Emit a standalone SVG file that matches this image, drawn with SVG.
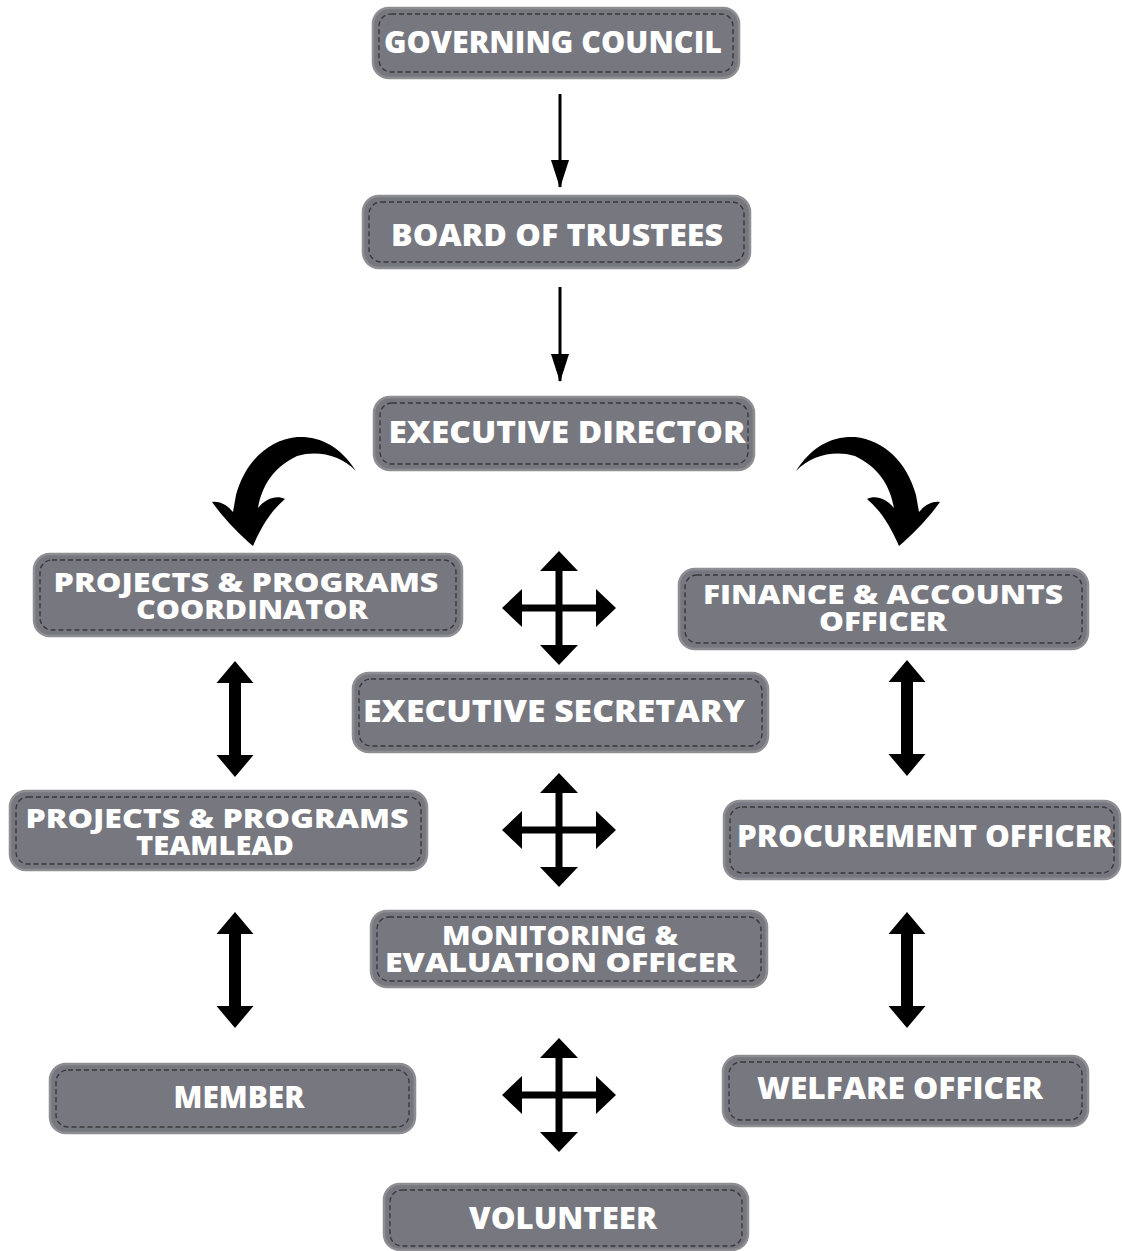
<svg xmlns="http://www.w3.org/2000/svg" xmlns:xlink="http://www.w3.org/1999/xlink" width="1122" height="1251" viewBox="0 0 1122 1251">
<style>
.box{fill:#77777f;stroke:#8e8e92;stroke-width:2.5}
.dash{fill:none;stroke:#38383d;stroke-width:1.4;stroke-dasharray:5 3}
.lbl{font-family:"Open Sans","Liberation Sans",sans-serif;font-weight:800;fill:#ffffff;text-anchor:middle;font-size:30px}
.lbl2{font-family:"Open Sans","Liberation Sans",sans-serif;font-weight:800;fill:#ffffff;text-anchor:middle;font-size:27px}
.thin{stroke:#000;stroke-width:3;fill:none}
</style>
<defs>
<marker id="head" markerUnits="userSpaceOnUse" markerWidth="28" markerHeight="18" refX="27" refY="9" orient="auto">
<path d="M0,0 L28,9 L0,18 Z" fill="#000"/>
</marker>
<polygon id="quad" fill="#000" points="0,-57 19,-37 3.5,-37 3.5,-3.5 37,-3.5 37,-19 57,0 37,19 37,3.5 3.5,3.5 3.5,37 19,37 0,57 -19,37 -3.5,37 -3.5,3.5 -37,3.5 -37,19 -57,0 -37,-19 -37,-3.5 -3.5,-3.5 -3.5,-37 -19,-37"/>
<polygon id="dbl" fill="#000" points="0,-58 18.5,-36 6,-36 6,36 18.5,36 0,58 -18.5,36 -6,36 -6,-36 -18.5,-36"/>
<path id="curve" fill="#000" d="M356,471 C340,446 320,436 297,437 C268,440 245,462 236,495 L233,512 C227,505 220,501 212,502 C225,520 240,535 253,546 C262,525 272,510 285,499 C277,495 266,498 258,508 C262,485 274,467 297,456 C318,450 340,455 356,471 Z"/>
</defs>
<rect width="1122" height="1251" fill="#ffffff"/>

<g id="connectors">
<line class="thin" x1="560" y1="94" x2="560" y2="187" marker-end="url(#head)"/>
<line class="thin" x1="560" y1="287" x2="560" y2="381" marker-end="url(#head)"/>
<use xlink:href="#curve"/>
<use xlink:href="#curve" transform="matrix(-1 0 0 1 1152 0)"/>
<use xlink:href="#quad" x="559" y="608"/>
<use xlink:href="#quad" x="559" y="830"/>
<use xlink:href="#quad" x="559" y="1095"/>
<use xlink:href="#dbl" x="235" y="719"/>
<use xlink:href="#dbl" x="235" y="970"/>
<use xlink:href="#dbl" x="907" y="718"/>
<use xlink:href="#dbl" x="907" y="970"/>
</g>

<g id="governing-council">
<rect class="box" x="373" y="8" width="366" height="70" rx="16"/>
<rect class="dash" x="379" y="14" width="354" height="58" rx="12"/>
<text class="lbl" x="553" y="53" textLength="338" lengthAdjust="spacingAndGlyphs">GOVERNING COUNCIL</text>
</g>

<g id="board-of-trustees">
<rect class="box" x="363" y="196" width="387" height="72" rx="16"/>
<rect class="dash" x="369" y="202" width="375" height="60" rx="12"/>
<text class="lbl" x="557" y="246" textLength="332" lengthAdjust="spacingAndGlyphs">BOARD OF TRUSTEES</text>
</g>

<g id="executive-director">
<rect class="box" x="374" y="397" width="380" height="73" rx="16"/>
<rect class="dash" x="380" y="403" width="368" height="61" rx="12"/>
<text class="lbl" x="567" y="443" textLength="357" lengthAdjust="spacingAndGlyphs">EXECUTIVE  DIRECTOR</text>
</g>

<g id="projects-programs-coordinator">
<rect class="box" x="34" y="554" width="428" height="82" rx="16"/>
<rect class="dash" x="40" y="560" width="416" height="70" rx="12"/>
<text class="lbl2" x="246" y="592" textLength="385" lengthAdjust="spacingAndGlyphs">PROJECTS &amp; PROGRAMS</text>
<text class="lbl2" x="252" y="619" textLength="232" lengthAdjust="spacingAndGlyphs">COORDINATOR</text>
</g>

<g id="finance-accounts-officer">
<rect class="box" x="679" y="569" width="409" height="80" rx="16"/>
<rect class="dash" x="685" y="575" width="397" height="68" rx="12"/>
<text class="lbl2" x="883" y="604" textLength="360" lengthAdjust="spacingAndGlyphs">FINANCE &amp; ACCOUNTS</text>
<text class="lbl2" x="883" y="631" textLength="128" lengthAdjust="spacingAndGlyphs">OFFICER</text>
</g>

<g id="executive-secretary">
<rect class="box" x="353" y="673" width="415" height="79" rx="16"/>
<rect class="dash" x="359" y="679" width="403" height="67" rx="12"/>
<text class="lbl" x="554" y="722" textLength="382" lengthAdjust="spacingAndGlyphs">EXECUTIVE  SECRETARY</text>
</g>

<g id="projects-programs-teamlead">
<rect class="box" x="10" y="791" width="417" height="79" rx="16"/>
<rect class="dash" x="16" y="797" width="405" height="67" rx="12"/>
<text class="lbl2" x="217" y="828" textLength="383" lengthAdjust="spacingAndGlyphs">PROJECTS &amp; PROGRAMS</text>
<text class="lbl2" x="215" y="855" textLength="158" lengthAdjust="spacingAndGlyphs">TEAMLEAD</text>
</g>

<g id="procurement-officer">
<rect class="box" x="724" y="801" width="396" height="78" rx="16"/>
<rect class="dash" x="730" y="807" width="384" height="66" rx="12"/>
<text class="lbl" x="925" y="847" textLength="376" lengthAdjust="spacingAndGlyphs">PROCUREMENT OFFICER</text>
</g>

<g id="monitoring-evaluation-officer">
<rect class="box" x="371" y="911" width="396" height="76" rx="16"/>
<rect class="dash" x="377" y="917" width="384" height="64" rx="12"/>
<text class="lbl2" x="560" y="945" textLength="236" lengthAdjust="spacingAndGlyphs">MONITORING &amp;</text>
<text class="lbl2" x="561" y="972" textLength="352" lengthAdjust="spacingAndGlyphs">EVALUATION OFFICER</text>
</g>

<g id="member">
<rect class="box" x="50" y="1064" width="365" height="69" rx="16"/>
<rect class="dash" x="56" y="1070" width="353" height="57" rx="12"/>
<text class="lbl" x="239" y="1108" textLength="131" lengthAdjust="spacingAndGlyphs">MEMBER</text>
</g>

<g id="welfare-officer">
<rect class="box" x="723" y="1056" width="365" height="70" rx="16"/>
<rect class="dash" x="729" y="1062" width="353" height="58" rx="12"/>
<text class="lbl" x="900" y="1099" textLength="286" lengthAdjust="spacingAndGlyphs">WELFARE OFFICER</text>
</g>

<g id="volunteer">
<rect class="box" x="384" y="1184" width="364" height="66" rx="16"/>
<rect class="dash" x="390" y="1190" width="352" height="56" rx="12"/>
<text class="lbl" x="563" y="1229" textLength="188" lengthAdjust="spacingAndGlyphs">VOLUNTEER</text>
</g>
</svg>
